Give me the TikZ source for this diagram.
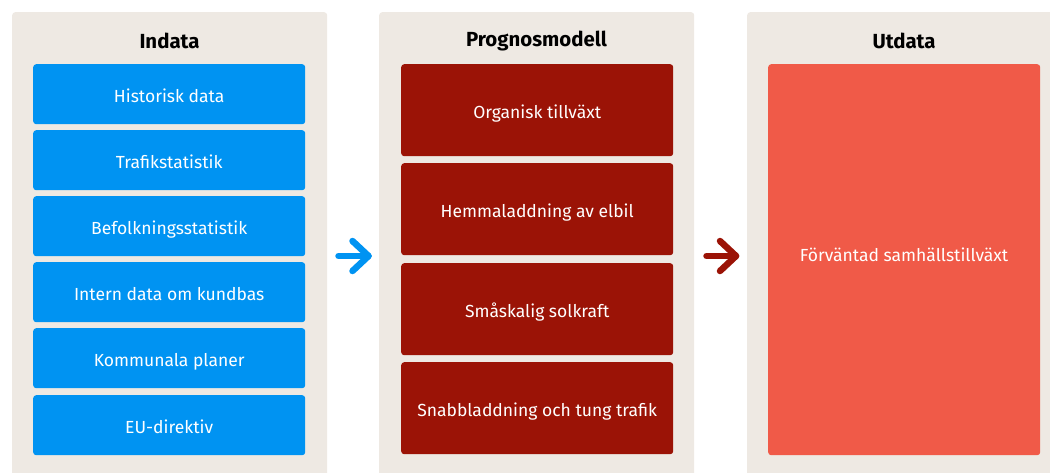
\documentclass[tikz,border=0pt]{standalone}
\usepackage{fontspec}
\setmainfont{Fira Sans}
\usetikzlibrary{calc}
\definecolor{panelbg}{HTML}{EEE9E3}
\definecolor{inblue}{HTML}{0093F2}
\definecolor{modred}{HTML}{9B1306}
\definecolor{outred}{HTML}{F05A48}
\tikzset{
  panel/.style={fill=panelbg, rounded corners=3pt, anchor=north west, inner sep=0pt},
  title/.style={font=\fontsize{20.4}{22}\selectfont\bfseries, text=black, anchor=center},
  boxbase/.style={rounded corners=3pt, anchor=north west, inner sep=0pt, text=white, font=\fontsize{17.5}{20}\selectfont, align=center, text height=16pt, text depth=0pt},
  inbox/.style={boxbase, fill=inblue, minimum width=272pt, minimum height=60pt},
  modbox/.style={boxbase, fill=modred, minimum width=272pt, minimum height=92pt},
  outbox/.style={boxbase, fill=outred, minimum width=272pt, minimum height=391pt},
  arrowline/.style={line width=6.5pt, line cap=round, line join=round},
}
\begin{document}
\begin{tikzpicture}[x=1pt,y=-1pt]
\useasboundingbox (0,0) rectangle (1050,472);
% panels
\node[panel, minimum width=315pt, minimum height=470pt] (p1) at (12,12) {};
\node[panel, minimum width=315pt, minimum height=470pt] (p2) at (379,12) {};
\node[panel, minimum width=315pt, minimum height=470pt] (p3) at (747,12) {};
% titles
\node[title] (t1) at (169.5,41) {Indata};
\node[title] (t2) at (536.5,41) {Prognosmodell};
\node[title] (t3) at (904,41) {Utdata};
% input boxes
\node[inbox] (i1) at (33,64) {Historisk data};
\node[inbox] (i2) at (33,130) {Trafikstatistik};
\node[inbox] (i3) at (33,196) {Befolkningsstatistik};
\node[inbox] (i4) at (33,262) {Intern data om kundbas};
\node[inbox] (i5) at (33,328) {Kommunala planer};
\node[inbox] (i6) at (33,395) {EU-direktiv};
% model boxes
\node[modbox] (m1) at (401,64) {Organisk tillväxt};
\node[modbox] (m2) at (401,163) {Hemmaladdning av elbil};
\node[modbox] (m3) at (401,263) {Småskalig solkraft};
\node[modbox] (m4) at (401,362) {Snabbladdning och tung trafik};
% output box
\node[outbox] (o1) at (768,64) {};
\node[text=white, font=\fontsize{17.5}{20}\selectfont] (o1t) at (904,255) {Förväntad samhällstillväxt};
% arrows
\coordinate (a1s) at (338.5,256);
\coordinate (a1e) at (368.5,256);
\coordinate (a2s) at (706.5,256);
\coordinate (a2e) at (736,256);
\draw[arrowline, draw=inblue] (a1s) -- (a1e);
\draw[arrowline, draw=inblue] ($(a1e)+(-16,-15)$) -- (a1e) -- ($(a1e)+(-16,15)$);
\draw[arrowline, draw=modred] (a2s) -- (a2e);
\draw[arrowline, draw=modred] ($(a2e)+(-16,-15)$) -- (a2e) -- ($(a2e)+(-16,15)$);
\end{tikzpicture}
\end{document}
